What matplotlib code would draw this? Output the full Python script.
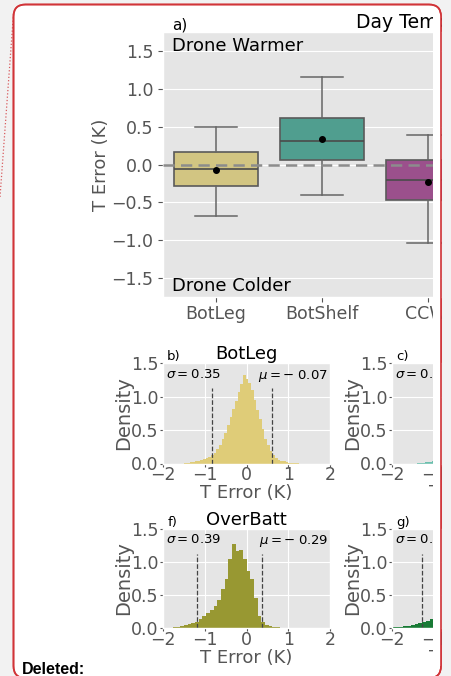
import numpy as np
import matplotlib.pyplot as plt
from matplotlib.patches import FancyBboxPatch, Rectangle
from matplotlib.lines import Line2D

plt.style.use("ggplot")

W, H = 451, 676

# --- a) box plot summary, T error (K)
box_names = ["BotLeg", "BotShelf", "CCWI"]
box_colors = ["#d2c582", "#509e8f", "#9b508c"]
box_whislo = [-0.68, -0.40, -1.04]
box_q1 = [-0.28, 0.06, -0.47]
box_med = [-0.06, 0.31, -0.20]
box_q3 = [0.16, 0.62, 0.06]
box_whishi = [0.50, 1.16, 0.39]
box_mean = [-0.07, 0.34, -0.23]

# --- histograms (density per bin)
botleg_start, botleg_width = -1.492, 0.064
botleg_dens = [0.008, 0.014, 0.02, 0.025, 0.03, 0.04, 0.05, 0.06, 0.075, 0.09,
               0.12, 0.16, 0.22, 0.28, 0.36, 0.46, 0.57, 0.69, 0.81, 0.93,
               1.07, 1.19, 1.32, 1.26, 1.20, 1.10, 0.95, 0.80, 0.67, 0.52,
               0.37, 0.27, 0.19, 0.12, 0.08, 0.055, 0.04, 0.03, 0.02, 0.012,
               0.008, 0.005, 0.003]
botleg_lines = [-0.82, 0.61]

overbatt_start, overbatt_width = -1.758, 0.088
overbatt_dens = [0.01, 0.02, 0.03, 0.04, 0.055, 0.07, 0.09, 0.13, 0.18, 0.23,
                 0.27, 0.33, 0.43, 0.59, 0.74, 1.04, 1.28, 1.17, 1.18, 1.04,
                 0.86, 0.74, 0.46, 0.18, 0.09, 0.05, 0.03, 0.02, 0.01, 0.005]
overbatt_lines = [-1.19, 0.37]

c_start, c_width = -1.40, 0.09
c_dens = [0.008, 0.012, 0.02, 0.028, 0.035]

g_start, g_width = -2.0, 0.09
g_dens = [0.01, 0.013, 0.02, 0.027, 0.035, 0.045, 0.058, 0.075, 0.09, 0.11,
          0.13, 0.155]
g_lines = [-1.29]

fig = plt.figure(figsize=(W / 100, H / 100), dpi=100)
fig.patch.set_facecolor("#f2f2f2")


def px_axes(x0, y0, x1, y1):
    return fig.add_axes([x0 / W, 1 - y1 / H, (x1 - x0) / W, (y1 - y0) / H])


# comment bubble behind everything
bubble = FancyBboxPatch((0.135, -0.02), 4.275, 6.735,
                        boxstyle="round,pad=0,rounding_size=0.12",
                        transform=fig.dpi_scale_trans, facecolor="white",
                        edgecolor="#d13438", lw=1.2, zorder=-5)
fig.add_artist(bubble)
fig.add_artist(Line2D([0.135, 0.0], [(H - 14) / 100, (H - 197) / 100],
                      transform=fig.dpi_scale_trans, ls=":", lw=0.9,
                      color="#d13438", alpha=0.8, zorder=-4))

# ---- a) box plot
ax = px_axes(163, 32, 163 + 106 * len(box_names), 297)
stats = []
for i, n in enumerate(box_names):
    stats.append(dict(label=n, whislo=box_whislo[i], q1=box_q1[i], med=box_med[i],
                      q3=box_q3[i], whishi=box_whishi[i], mean=box_mean[i], fliers=[]))
bp = ax.bxp(stats, positions=range(len(box_names)), widths=0.8, patch_artist=True,
            showmeans=True, capwidths=0.4,
            meanprops=dict(marker="o", markerfacecolor="black", markeredgecolor="black", markersize=4),
            medianprops=dict(color="#4a4a4a", lw=1.2),
            boxprops=dict(edgecolor="#5a5a5a", lw=1.2),
            whiskerprops=dict(color="#666666", lw=1.1),
            capprops=dict(color="#666666", lw=1.1))
for patch, c in zip(bp["boxes"], box_colors):
    patch.set_facecolor(c)
ax.axhline(0, color="#8c8c8c", ls=(0, (4.5, 2.5)), lw=1.8, zorder=3)
ax.set_xlim(-0.5, len(box_names) - 0.5)
ax.set_ylim(-1.75, 1.75)
ax.set_yticks([-1.5, -1.0, -0.5, 0.0, 0.5, 1.0, 1.5])
ax.xaxis.grid(False)
ax.tick_params(labelsize=12.5, colors="#555555")
ax.tick_params(axis="x", pad=2)
ax.set_ylabel("T Error (K)", fontsize=13, color="#555555", labelpad=1)
ax.text(-0.415, 1.50, "Drone Warmer", fontsize=13, va="baseline")
ax.text(-0.415, -1.67, "Drone Colder", fontsize=13, va="baseline")
ax.text(172 / W, 1 - 30 / H, "a)", fontsize=11, va="baseline", transform=fig.transFigure)
fig.text(356 / W, 1 - 28 / H, "Day Temperature", fontsize=13.5, va="baseline")


# ---- histograms
def hist_panel(box, start, width, dens, color, letter, title=None, lines=(), sigma=None, mu=None):
    h = px_axes(*box)
    edges = start + width * np.arange(len(dens) + 1)
    h.stairs(dens, edges, fill=True, color=color)
    for x in lines:
        h.axvline(x, ymax=0.75, color="#444444", ls="--", lw=0.9)
    h.set_xlim(-2, 2)
    h.set_ylim(0, 1.5)
    h.set_xticks([-2, -1, 0, 1, 2])
    h.set_yticks([0.0, 0.5, 1.0, 1.5])
    h.tick_params(labelsize=12.5, colors="#555555", length=2, pad=1)
    h.tick_params(axis="x", pad=0)
    h.set_ylabel("Density", fontsize=14, color="#555555", labelpad=-1)
    h.set_xlabel("T Error (K)", fontsize=13, color="#555555", labelpad=0)
    h.text(0.025, 1.03, letter, fontsize=9.5, va="baseline", transform=h.transAxes)
    if title:
        h.set_title(title, fontsize=13, color="black", pad=2)
    if sigma:
        h.text(0.02, 0.955, sigma, fontsize=9.5, va="top", transform=h.transAxes)
    if mu:
        h.text(0.99, 0.955, mu, fontsize=9.5, va="top", ha="right", transform=h.transAxes)
    return h


hist_panel((163, 363, 330, 463.5), botleg_start, botleg_width, botleg_dens, "#dfcc78",
           "b)", "BotLeg", botleg_lines, r"$\sigma = 0.35$", r"$\mu = -\;0.07$")
hist_panel((392, 363, 559, 463.5), c_start, c_width, c_dens, "#6cbfae",
           "c)", None, (), r"$\sigma = 0.4$")
hist_panel((163, 529, 330, 628), overbatt_start, overbatt_width, overbatt_dens, "#989832",
           "f)", "OverBatt", overbatt_lines, r"$\sigma = 0.39$", r"$\mu = -\;0.29$")
hist_panel((392, 529, 559, 628), g_start, g_width, g_dens, "#187a35",
           "g)", None, g_lines, r"$\sigma = 0.4$")

# crop of the right side, as in the document view
fig.add_artist(Rectangle((4.33, 0.10), 0.075, 6.52, transform=fig.dpi_scale_trans,
                         facecolor="white", edgecolor="none", zorder=10))
fig.add_artist(Rectangle((4.418, 0), 0.2, H / 100, transform=fig.dpi_scale_trans,
                         facecolor="#f2f2f2", edgecolor="none", zorder=10))
fig.add_artist(FancyBboxPatch((0.135, -0.02), 4.275, 6.735,
                              boxstyle="round,pad=0,rounding_size=0.12",
                              transform=fig.dpi_scale_trans, fill=False,
                              edgecolor="#d13438", lw=1.2, zorder=11))

fig.text(22 / W, 1 - 674 / H, "Deleted:", fontsize=11.5, fontweight="bold",
         family="Liberation Sans", va="baseline")

fig.savefig("out.png", dpi=100)
